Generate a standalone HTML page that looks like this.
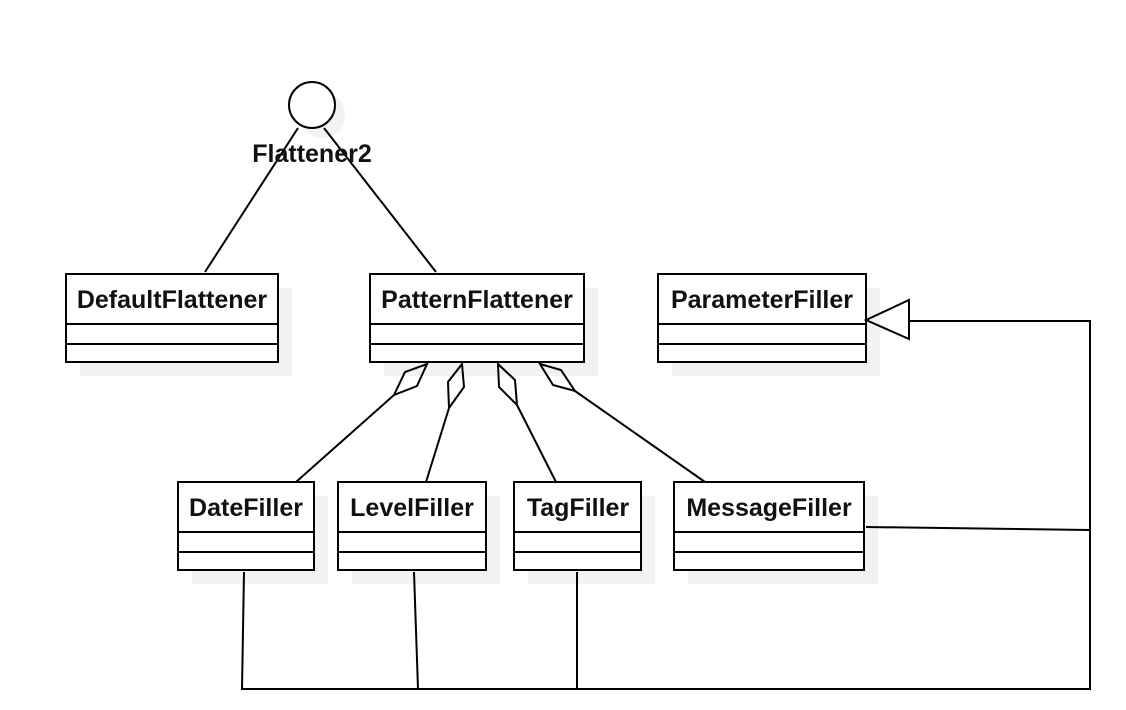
<!DOCTYPE html>
<html><head><meta charset="utf-8"><style>
body{margin:0;background:#fff;}
svg{display:block}
text{font-family:"Liberation Sans",sans-serif;font-weight:bold;font-size:25px;fill:#111}
</style></head><body>
<svg width="1126" height="710" viewBox="0 0 1126 710" xmlns="http://www.w3.org/2000/svg">
<g fill="#f2f2f2">
<rect x="80" y="288" width="212" height="88"/>
<rect x="384" y="288" width="214" height="88"/>
<rect x="672" y="288" width="208" height="88"/>
<rect x="192" y="496" width="136" height="88"/>
<rect x="352" y="496" width="148" height="88"/>
<rect x="528" y="496" width="127" height="88"/>
<rect x="688" y="496" width="190" height="88"/>
<circle cx="322" cy="115" r="23"/>
</g>
<g fill="#fff" stroke="#000" stroke-width="2">
<rect x="66" y="274" width="212" height="88"/>
<rect x="370" y="274" width="214" height="88"/>
<rect x="658" y="274" width="208" height="88"/>
<rect x="178" y="482" width="136" height="88"/>
<rect x="338" y="482" width="148" height="88"/>
<rect x="514" y="482" width="127" height="88"/>
<rect x="674" y="482" width="190" height="88"/>
<circle cx="312" cy="105" r="23"/>
</g>
<g stroke="#000" stroke-width="2" fill="none">
<path d="M66 324H278M66 344H278M370 324H584M370 344H584M658 324H866M658 344H866"/>
<path d="M178 532H314M178 552H314M338 532H486M338 552H486M514 532H641M514 552H641M674 532H864M674 552H864"/>
<path d="M298 128L205 272M324 128L436 272"/>
<path d="M427 364L417 386L394 395L405 372Z M394 395L296 482"/>
<path d="M462 364L464 387L449 408L448 382Z M449 408L426 482"/>
<path d="M498 364L515 380L517 405L499 387Z M517 405L556 482"/>
<path d="M540 364L561 370L575 391L553 385Z M575 391L705 482"/>
<path d="M866 320L909 300L909 339Z"/>
<path d="M909 321H1090V689H242L244 572M414 572L418 689M577 572V689M866 527L1090 530"/>
</g>
<text x="312" y="162" text-anchor="middle">Flattener2</text>
<text x="172" y="308" text-anchor="middle">DefaultFlattener</text>
<text x="477" y="308" text-anchor="middle">PatternFlattener</text>
<text x="762" y="308" text-anchor="middle">ParameterFiller</text>
<text x="246" y="516" text-anchor="middle">DateFiller</text>
<text x="412" y="516" text-anchor="middle">LevelFiller</text>
<text x="578" y="516" text-anchor="middle">TagFiller</text>
<text x="769" y="516" text-anchor="middle">MessageFiller</text>
</svg>
</body></html>
